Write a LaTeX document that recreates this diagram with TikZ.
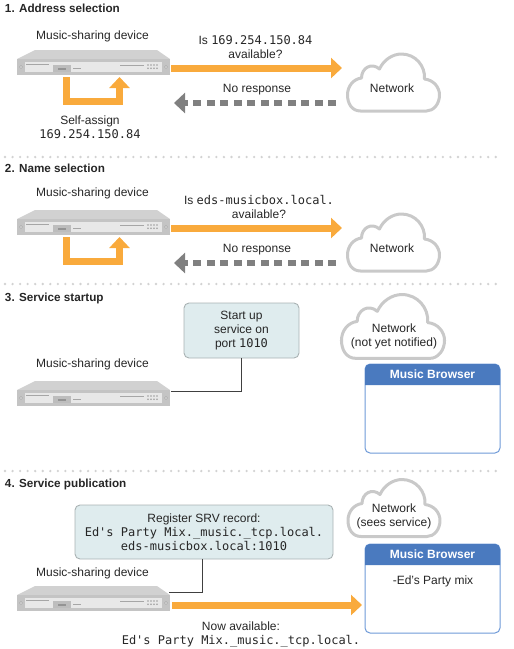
\documentclass[tikz,border=0pt]{standalone}
\usepackage{fontspec}
\setmainfont{Liberation Sans}
\setmonofont{DejaVu Sans Mono}
\usetikzlibrary{arrows.meta}
\definecolor{arroworange}{HTML}{F9AA3C}
\definecolor{arrowgray}{HTML}{808080}
\definecolor{cloudgray}{HTML}{C9C9C9}
\definecolor{tealfill}{HTML}{DFECEE}
\definecolor{tealedge}{HTML}{A9B2B3}
\definecolor{headblue}{HTML}{4A7ABF}
\definecolor{edgeblue}{HTML}{6E9AD8}
\definecolor{dotgray}{HTML}{D2D2D2}
\newcommand{\mono}[1]{{\ttfamily #1}}
\tikzset{
	x=1pt, y=-1pt,
	every node/.style={font=\fontsize{12}{14}\selectfont, align=center, inner sep=0pt, outer sep=0pt, text=black!85},
	title/.style={font=\fontsize{11.7}{14}\selectfont\bfseries, anchor=west},
	orangearrow/.style={draw=arroworange, line width=7pt, -{Triangle[width=20pt,length=11pt]}},
	grayarrow/.style={draw=arrowgray, line width=6pt, dash pattern=on 8pt off 5.5pt, -{Triangle[width=20pt,length=11pt]}},
	tapline/.style={draw=black!75, line width=0.9pt},
	sepline/.style={draw=dotgray, line width=2.6pt, line cap=round, dash pattern=on 0pt off 7.55pt},
	tealbox/.style={draw=tealedge, fill=tealfill, line width=0.9pt, rounded corners=5pt},
	browserbox/.style={draw=edgeblue, fill=white, line width=1pt, rounded corners=5pt, minimum width=135pt, minimum height=89pt},
	device/.pic={
		\fill[black!18] (0,9) -- (18,0) -- (140,0) -- (153,9) -- cycle;
		\fill[black!23] (0,9) rectangle (153,25);
		\fill[black!9] (8,12) rectangle (145,22);
		\fill[black!35] (9,13.5) rectangle (32,15);
		\fill[black!26] (36,15) rectangle (54,22);
		\fill[black!42] (41,18) rectangle (49,19.5);
		\fill[black!35] (56,17.5) rectangle (64,19);
		\fill[black!35] (103,14.5) rectangle (127,16);
		\foreach \c in {0,1,2,3} \foreach \r in {0,1}
			\fill[black!38] (131+3*\c,15+3.2*\r) circle (0.9);
		\draw[black!35, fill=black!8, line width=0.4pt] (4,17) circle (1.5) (149,17) circle (1.5);
		\coordinate (-out) at (154,18);
		\coordinate (-in) at (157,53);
		\coordinate (-lo) at (49.5,27);
		\coordinate (-up) at (102.5,27);
		\coordinate (-tap) at (154,10);
		\coordinate (-tip) at (152,6);
	},
	netcloud/.pic={
		\draw[cloudgray, line width=3pt, fill=white, line join=round] (-33,28)
			.. controls (-42,28) and (-46,20) .. (-46,12)
			.. controls (-46,3) and (-40,-4) .. (-32,-5)
			.. controls (-32,-15) and (-22,-21) .. (-14,-14)
			.. controls (-10,-23) and (-1,-29) .. (8,-29)
			.. controls (22,-29) and (32,-17) .. (31,-4)
			.. controls (40,-3) and (46,4) .. (46,12)
			.. controls (46,21) and (40,28) .. (33,28)
			-- cycle;
	},
}
\begin{document}
\begin{tikzpicture}
	\useasboundingbox (0,0) rectangle (514,649);
	% separators
	\draw[sepline] (5,157) -- (498,157);
	\draw[sepline] (5,284) -- (498,284);
	\draw[sepline] (5,471) -- (498,471);

	% 1. address selection
	\node[title] (t1) at (5,8) {1. Address selection};
	\node (lab1) at (92.5,36) {Music-sharing device};
	\pic (dev1) at (17,50) {device};
	\pic (net1) at (393.5,83) {netcloud};
	\node (netlab1) at (392,88) {Network};
	\coordinate (ask1) at (342,68);
	\coordinate (back1) at (336,103);
	\draw[orangearrow] (dev1-out) -- (ask1);
	\draw[grayarrow] (back1) -- (dev1-in);
	\draw[orangearrow] (dev1-lo) -- ++(0,24) -| (dev1-up);
	\node (q1) at (255.5,47) {Is \mono{169.254.150.84}\\available?};
	\node (no1) at (257,89.5) {No response};
	\node (self1) at (90,127) {Self-assign\\\mono{169.254.150.84}};

	% 2. name selection
	\node[title] (t2) at (5,168) {2. Name selection};
	\node (lab2) at (92.5,193) {Music-sharing device};
	\pic (dev2) at (17,210) {device};
	\pic (net2) at (393.5,243) {netcloud};
	\node (netlab2) at (392,248) {Network};
	\coordinate (ask2) at (342,228);
	\coordinate (back2) at (336,263);
	\draw[orangearrow] (dev2-out) -- (ask2);
	\draw[grayarrow] (back2) -- (dev2-in);
	\draw[orangearrow] (dev2-lo) -- ++(0,24) -| (dev2-up);
	\node (q2) at (259,207) {Is \mono{eds-musicbox.local.}\\available?};
	\node (no2) at (257,249.5) {No response};

	% 3. service startup
	\node[title] (t3) at (5,298.5) {3. Service startup};
	\node (lab3) at (92.5,364) {Music-sharing device};
	\pic (dev3) at (17,381) {device};
	\pic[scale=1.12] (net3) at (393,327) {netcloud};
	\node (netlab3) at (394,336) {Network\\(not yet notified)};
	\node[tealbox, minimum width=115pt, minimum height=55pt] (svc) at (241.5,330.5) {Start up\\service on\\port \mono{1010}};
	\draw[tapline] (svc.south) |- (dev3-tap);

	% 4. service publication
	\node[title] (t4) at (5,484.5) {4. Service publication};
	\node (lab4) at (92.5,573) {Music-sharing device};
	\pic (dev4) at (17,586) {device};
	\pic (net4) at (394,508.5) {netcloud};
	\node (netlab4) at (394,516) {Network\\(sees service)};
	\node[tealbox, minimum width=258pt, minimum height=54pt] (reg) at (204,532) {Register SRV record:\\\mono{Ed's Party Mix.\_music.\_tcp.local.}\\\mono{eds-musicbox.local:1010}};
	\draw[tapline] ([xshift=-2pt]reg.south) |- (dev4-tip);
	\coordinate (pub) at (362,605);
	\draw[orangearrow] (172,605) -- (pub);
	\node (now) at (241,634.5) {Now available:\\\mono{Ed's Party Mix.\_music.\_tcp.local.}};

	% browser windows
	\node[browserbox] (brw3) at (432.5,408.5) {};
	\node[browserbox] (brw4) at (432.5,588.5) {};
	\foreach \n in {3,4} {
		\fill[headblue] ([yshift=-21pt]brw\n.north west) [rounded corners=5pt] -- (brw\n.north west) -- (brw\n.north east) [sharp corners] -- ([yshift=-21pt]brw\n.north east) -- cycle;
		\node[font=\fontsize{12}{14}\selectfont\bfseries, text=white] (head\n) at ([yshift=-10.5pt]brw\n.north) {Music Browser};
	}
	\node (entry) at (433,581.5) {-Ed’s Party mix};
\end{tikzpicture}
\end{document}
